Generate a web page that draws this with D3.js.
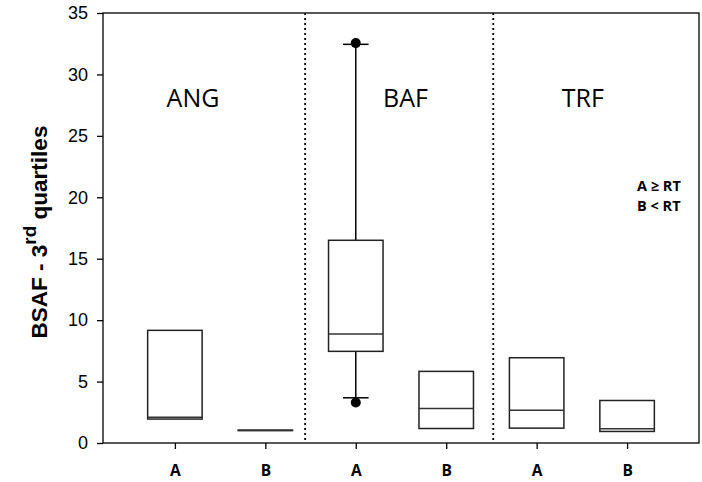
<!DOCTYPE html>
<html><head><meta charset="utf-8">
<script src="https://cdn.jsdelivr.net/npm/d3@7/dist/d3.min.js"></script>
<style>body{margin:0;background:#fff}svg{display:block}</style>
</head><body><div id="chart"></div>
<script>
const categories = ["ANG-A","ANG-B","BAF-A","BAF-B","TRF-A","TRF-B"];
const tickLabels = ["A","B","A","B","A","B"];
const groups = ["ANG","BAF","TRF"];
const q1 =     [1.95, 1.02, 7.46, 1.18, 1.21, 0.94];
const median = [2.1,  1.02, 8.87, 2.81, 2.67, 1.16];
const q3 =     [9.17, 1.05, 16.5, 5.83, 6.94, 3.46];
const whiskerLow =  [null, null, 3.68, null, null, null];
const whiskerHigh = [null, null, 32.45, null, null, null];
const outliers = [{cat:"BAF-A", v:32.55},{cat:"BAF-A", v:3.3}];
const yTicks = [0,5,10,15,20,25,30,35];
const legendLines = ["A \u2265 RT","B < RT"];

const W=702,H=482;
const m={l:103,r:3,t:13,b:39};
const svg=d3.select("#chart").append("svg").attr("width",W).attr("height",H);
const x=d3.scalePoint().domain(categories).range([m.l,W-m.r]).padding(0.795);
const y=d3.scaleLinear().domain([0,35]).range([H-m.b,m.t]);
const idx=d3.scaleLinear().domain([0,5]).range([x(categories[0]),x(categories[5])]);

// frame
svg.append("rect").attr("x",m.l).attr("y",m.t).attr("width",W-m.r-m.l).attr("height",H-m.b-m.t)
  .attr("fill","none").attr("stroke","#000").attr("stroke-width",1.3);

// separators
[1.44,3.52].forEach(p=>{
  svg.append("line").attr("x1",idx(p)).attr("x2",idx(p)).attr("y1",m.t).attr("y2",H-m.b)
    .attr("stroke","#000").attr("stroke-width",1.8).attr("stroke-dasharray","2,3");
});

// axes
const yAxis=d3.axisLeft(y).tickValues(yTicks).tickSize(6).tickPadding(9);
const gy=svg.append("g").attr("transform",`translate(${m.l},0)`).call(yAxis);
gy.select(".domain").remove();
gy.selectAll("text").attr("font-family","Liberation Sans, Arial, sans-serif").attr("font-size",18).attr("fill","#000");
gy.selectAll("line").attr("stroke","#000").attr("stroke-width",1.3);

const xAxis=d3.axisBottom(x).tickSize(6).tickPadding(16).tickFormat((d,i)=>tickLabels[i]);
const gx=svg.append("g").attr("transform",`translate(0,${H-m.b})`).call(xAxis);
gx.select(".domain").remove();
gx.selectAll("text").attr("font-family","Open Sans, sans-serif").attr("font-size",15.5).attr("font-weight","bold").attr("fill","#000");
gx.selectAll("line").attr("stroke","#000").attr("stroke-width",1.3);

// y label
const yl=svg.append("text").attr("transform",`translate(47,232) rotate(-90)`)
  .attr("text-anchor","middle").attr("font-family","Liberation Sans, Arial, sans-serif")
  .attr("font-size",22.5).attr("font-weight","bold").attr("fill","#000");
yl.append("tspan").text("BSAF - 3");
yl.append("tspan").attr("dy",-11).attr("font-size",19).text("rd");
yl.append("tspan").attr("dy",11).text(" quartiles");

// boxes
const bw=54.5, cw=25.6;
categories.forEach((c,i)=>{
  const cx=x(c);
  if(whiskerHigh[i]!=null){
    svg.append("line").attr("x1",cx).attr("x2",cx).attr("y1",y(q3[i])).attr("y2",y(whiskerHigh[i])).attr("stroke","#000").attr("stroke-width",1.5);
    svg.append("line").attr("x1",cx-cw/2).attr("x2",cx+cw/2).attr("y1",y(whiskerHigh[i])).attr("y2",y(whiskerHigh[i])).attr("stroke","#000").attr("stroke-width",1.5);
  }
  if(whiskerLow[i]!=null){
    svg.append("line").attr("x1",cx).attr("x2",cx).attr("y1",y(q1[i])).attr("y2",y(whiskerLow[i])).attr("stroke","#000").attr("stroke-width",1.5);
    svg.append("line").attr("x1",cx-cw/2).attr("x2",cx+cw/2).attr("y1",y(whiskerLow[i])).attr("y2",y(whiskerLow[i])).attr("stroke","#000").attr("stroke-width",1.5);
  }
  svg.append("rect").attr("x",cx-bw/2).attr("y",y(q3[i])).attr("width",bw).attr("height",Math.max(0,y(q1[i])-y(q3[i])))
    .attr("fill","none").attr("stroke","#222").attr("stroke-width",1.5);
  svg.append("line").attr("x1",cx-bw/2).attr("x2",cx+bw/2).attr("y1",y(median[i])).attr("y2",y(median[i])).attr("stroke","#333").attr("stroke-width",1.5);
});
outliers.forEach(o=>{
  svg.append("circle").attr("cx",x(o.cat)).attr("cy",y(o.v)).attr("r",5).attr("fill","#000");
});

// group labels (positions in category-index units)
const groupLabelPos=[0.2,2.55,4.51];
groups.forEach((g,i)=>{
  svg.append("text").attr("x",idx(groupLabelPos[i])).attr("y",107)
    .attr("text-anchor","middle").attr("font-family","Open Sans, sans-serif").attr("font-size",25).attr("fill","#000").text(g);
});

// legend
legendLines.forEach((t,i)=>{
  svg.append("text").attr("x",637).attr("y",191+i*20).attr("font-family","Open Sans, sans-serif")
    .attr("font-size",14.5).attr("font-weight","bold").attr("fill","#000").text(t);
});
</script></body></html>
